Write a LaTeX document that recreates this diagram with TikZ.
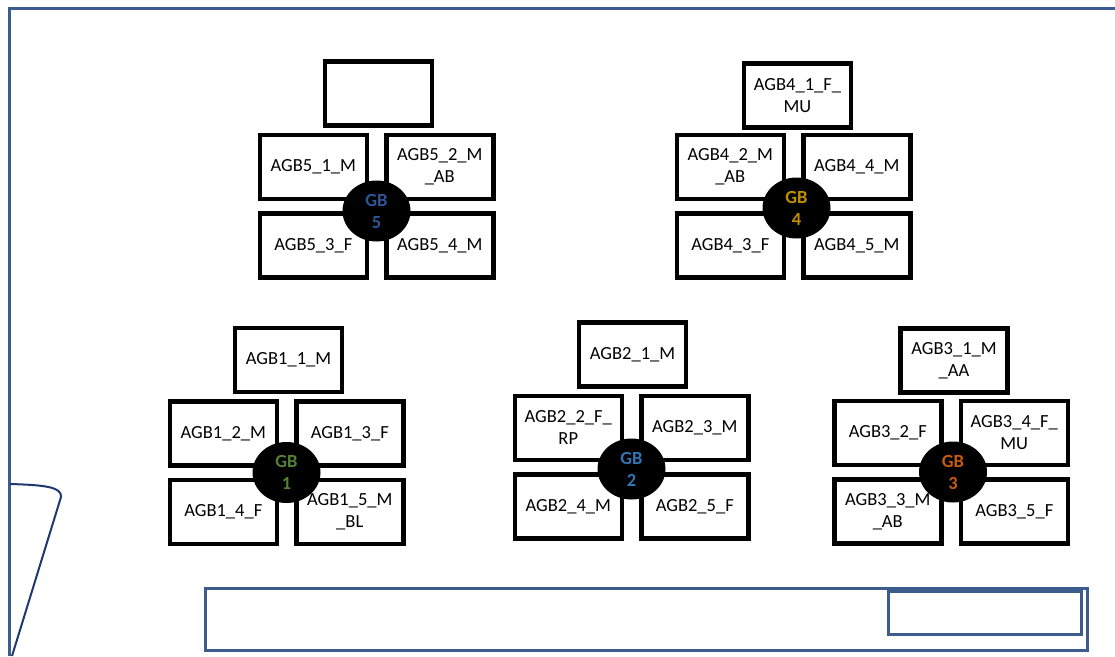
\documentclass[tikz,border=0pt]{standalone}
\usepackage{fontspec}
\setmainfont{Carlito}
\usetikzlibrary{positioning,shapes.geometric}
\definecolor{frameblue}{RGB}{59,92,140}
\definecolor{tabblue}{RGB}{31,56,110}
\definecolor{gbone}{RGB}{84,130,53}
\definecolor{gbtwo}{RGB}{46,117,182}
\definecolor{gbthree}{RGB}{197,90,17}
\definecolor{gbfour}{RGB}{191,144,0}
\definecolor{gbfive}{RGB}{47,85,151}

\begin{document}
\begin{tikzpicture}[x=1pt,y=-1pt,
  box/.style={draw,line width=4.5pt,minimum width=107pt,minimum height=64pt,inner sep=1pt,align=center,font=\fontsize{18.5}{22}\selectfont},
  gb/.style={ellipse,fill=black,minimum width=68pt,minimum height=61pt,inner sep=0pt,align=center,font=\bfseries\fontsize{18.5}{22}\selectfont},
  wall/.style={draw=frameblue,line width=3pt},]
\useasboundingbox (0,0) rectangle (1115,656);

\draw[wall] (1115,8) -- (9,8) -- (9,656);
\draw[wall] (205,588) rectangle (1087,650);
\draw[wall] (888,591) rectangle (1081,634);
\draw[tabblue,line width=2pt] (10,484) .. controls (45,485) and (62,487) .. (61,497) -- (12,656);

\coordinate (j5) at (376.5,206);
\node[box,above left=5pt and 7.5pt of j5] (b51) {AGB5\_1\_M};
\node[box,above right=5pt and 7.5pt of j5] (b52) {AGB5\_2\_M\\\_AB};
\node[box,below left=5pt and 7.5pt of j5] (b53) {AGB5\_3\_F};
\node[box,below right=5pt and 7.5pt of j5] (b54) {AGB5\_4\_M};
\node[box,anchor=south,yshift=5pt,xshift=2pt] (b50) at (b51.north -| j5) {};
\node[gb,text=gbfive,yshift=-5pt] (gb5) at (j5) {GB\\5};

\coordinate (j4) at (793.5,206);
\node[box,above left=5pt and 7.5pt of j4] (b42) {AGB4\_2\_M\\\_AB};
\node[box,above right=5pt and 7.5pt of j4] (b44) {AGB4\_4\_M};
\node[box,below left=5pt and 7.5pt of j4] (b43) {AGB4\_3\_F};
\node[box,below right=5pt and 7.5pt of j4] (b45) {AGB4\_5\_M};
\node[box,anchor=south,yshift=3pt,xshift=4pt] (b41) at (b42.north -| j4) {AGB4\_1\_F\_\\MU};
\node[gb,text=gbfour,yshift=-2pt,xshift=3pt] (gb4) at (j4) {GB\\4};

\coordinate (j1) at (286.5,472.5);
\node[box,above left=5pt and 7.5pt of j1] (b12) {AGB1\_2\_M};
\node[box,above right=5pt and 7.5pt of j1] (b13) {AGB1\_3\_F};
\node[box,below left=5pt and 7.5pt of j1] (b14) {AGB1\_4\_F};
\node[box,below right=5pt and 7.5pt of j1] (b15) {AGB1\_5\_M\\\_BL};
\node[box,anchor=south,yshift=5pt,xshift=2pt] (b11) at (b12.north -| j1) {AGB1\_1\_M};
\node[gb,text=gbone] (gb1) at (j1) {GB\\1};

\coordinate (j2) at (631.5,467);
\node[box,above left=5pt and 7.5pt of j2] (b22) {AGB2\_2\_F\_\\RP};
\node[box,above right=5pt and 7.5pt of j2] (b23) {AGB2\_3\_M};
\node[box,below left=5pt and 7.5pt of j2] (b24) {AGB2\_4\_M};
\node[box,below right=5pt and 7.5pt of j2] (b25) {AGB2\_5\_F};
\node[box,anchor=south,yshift=5pt,xshift=1pt] (b21) at (b22.north -| j2) {AGB2\_1\_M};
\node[gb,text=gbtwo,yshift=-2pt] (gb2) at (j2) {GB\\2};

\coordinate (j3) at (951,472);
\node[box,above left=5pt and 7.5pt of j3] (b32) {AGB3\_2\_F};
\node[box,above right=5pt and 7.5pt of j3] (b34) {AGB3\_4\_F\_\\MU};
\node[box,below left=5pt and 7.5pt of j3] (b33) {AGB3\_3\_M\\\_AB};
\node[box,below right=5pt and 7.5pt of j3] (b35) {AGB3\_5\_F};
\node[box,anchor=south,yshift=4pt,xshift=3pt] (b31) at (b32.north -| j3) {AGB3\_1\_M\\\_AA};
\node[gb,text=gbthree,xshift=2pt] (gb3) at (j3) {GB\\3};
\end{tikzpicture}
\end{document}
